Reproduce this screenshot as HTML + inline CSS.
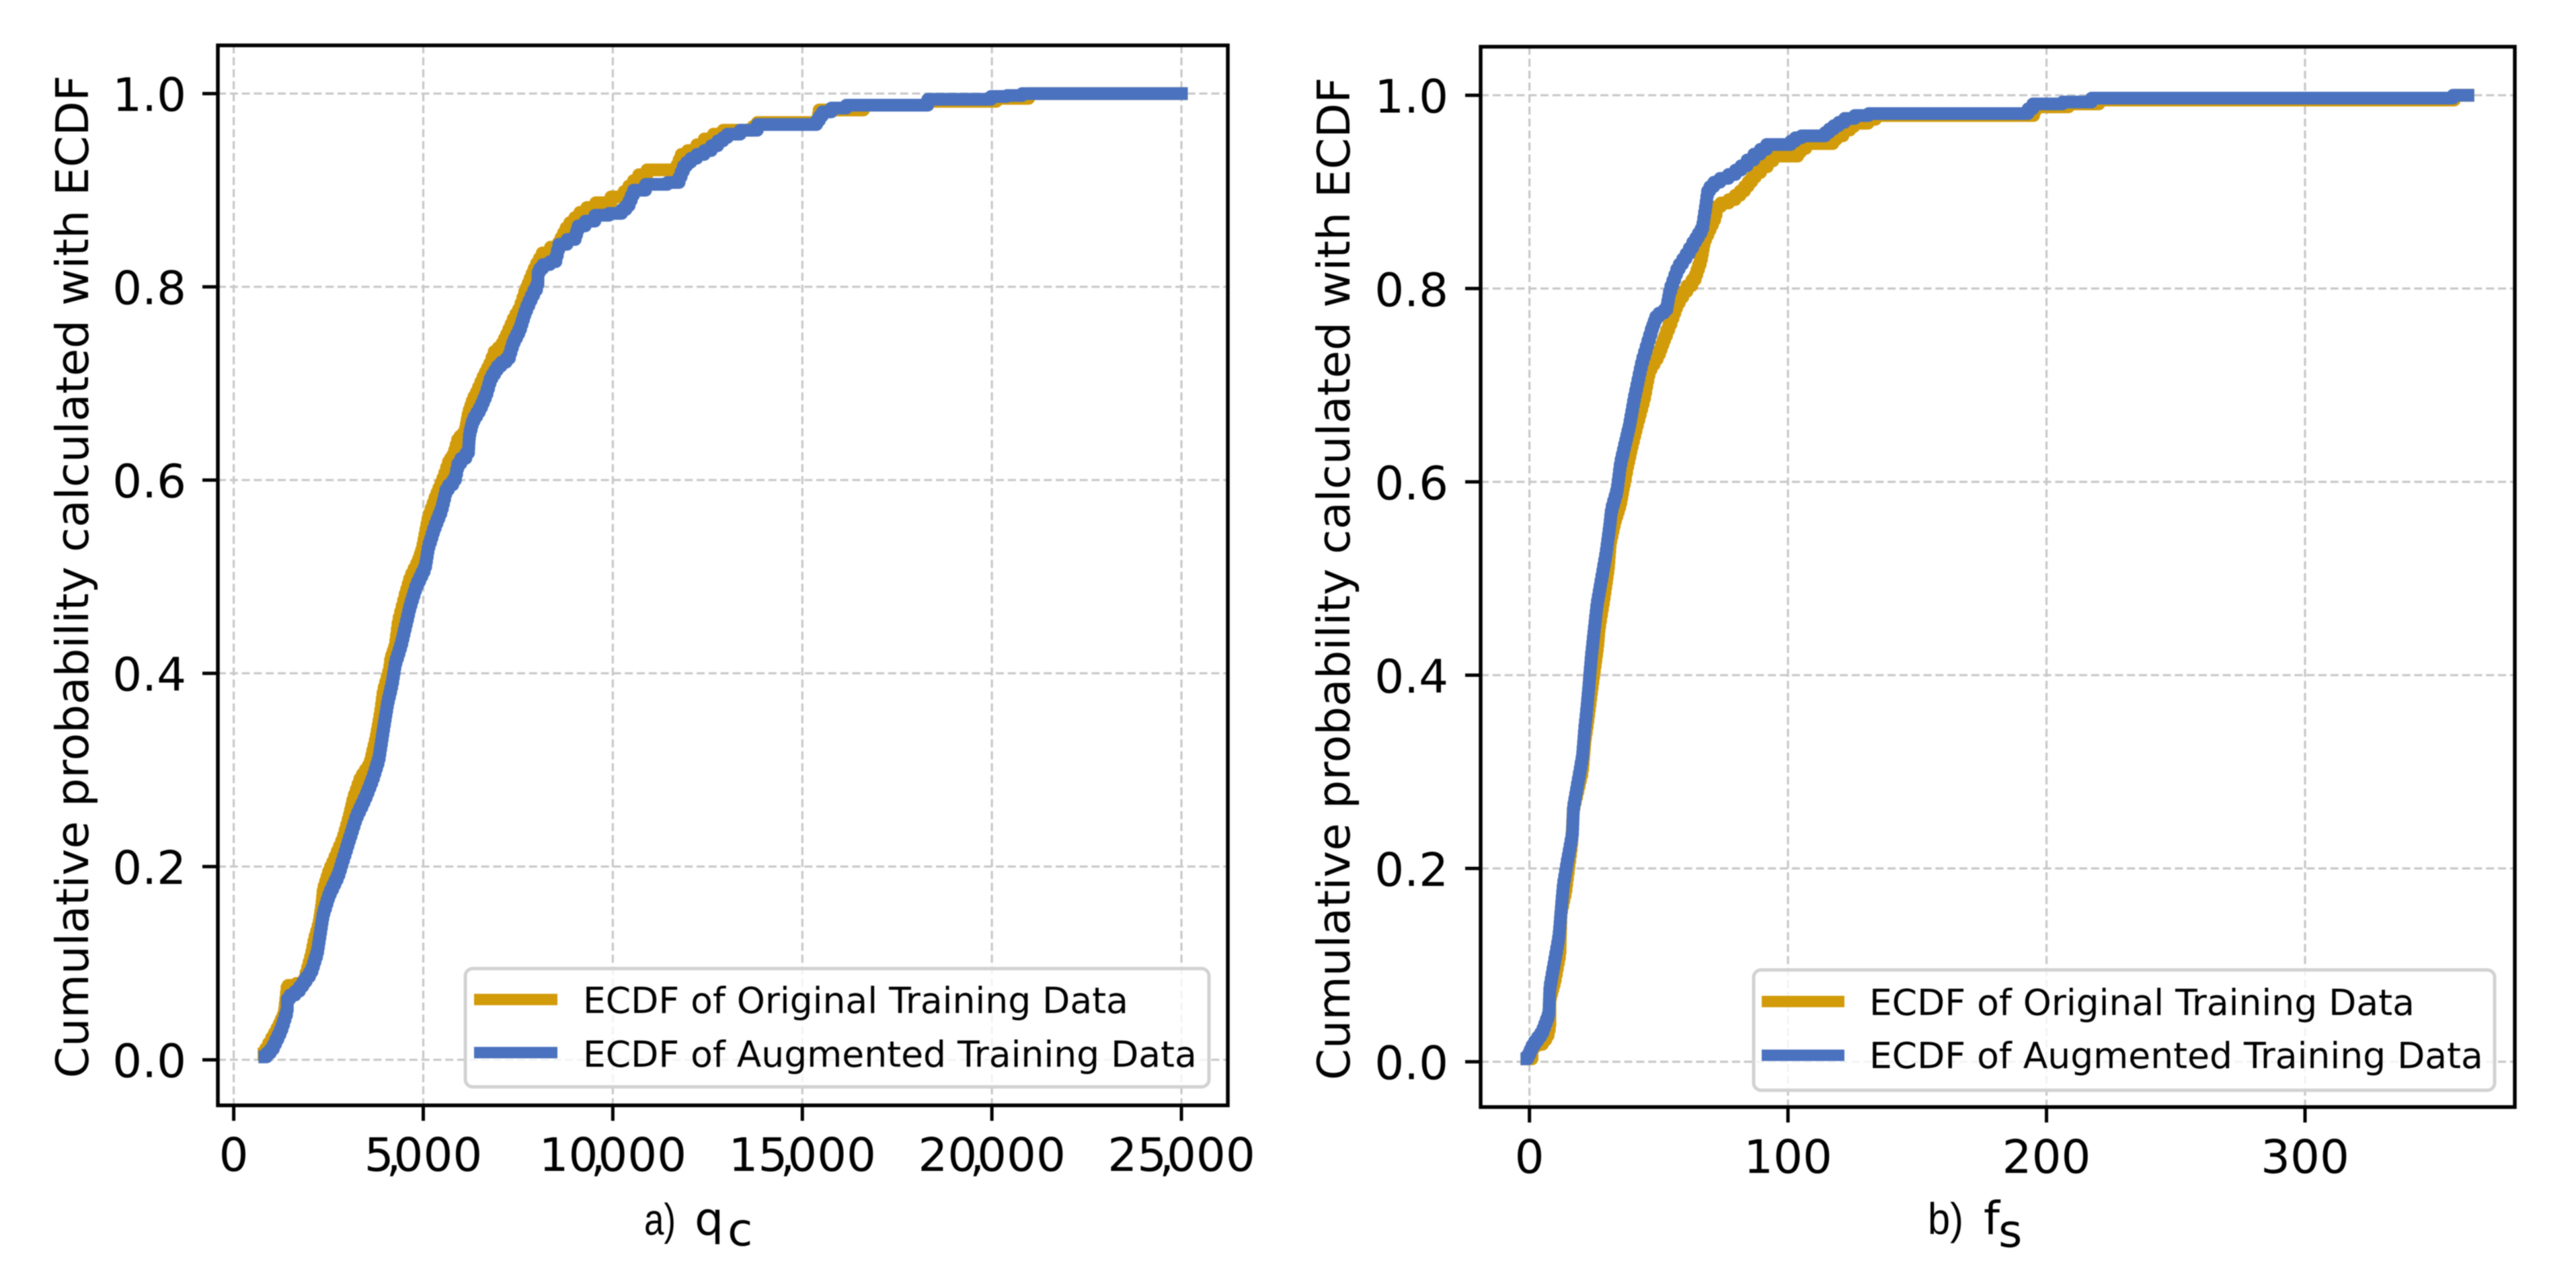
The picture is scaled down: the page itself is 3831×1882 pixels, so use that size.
<!DOCTYPE html>
<html lang="en">
<head>
<meta charset="utf-8">
<title>ECDF comparison of original and augmented training data</title>
<style>
html,body{margin:0;padding:0;background:#fff;width:3831px;height:1882px;overflow:hidden}
svg{display:block;filter:blur(0.7px)}
text{font-family:"DejaVu Sans","Liberation Sans",sans-serif;fill:#000}
.narrow{font-family:"Liberation Sans","DejaVu Sans",sans-serif}
</style>
</head>
<body>
<svg id="chart" xmlns="http://www.w3.org/2000/svg" width="3831" height="1882" viewBox="0 0 3831 1882"></svg>
<script>
const qcTicks = [0, 5000, 10000, 15000, 20000, 25000];
const qcTickLabels = ["0", "5,000", "10,000", "15,000", "20,000", "25,000"];
const fsTicks = [0, 100, 200, 300];
const fsTickLabels = ["0", "100", "200", "300"];
const probTicks = [0, 0.2, 0.4, 0.6, 0.8, 1];
const probTickLabels = ["0.0", "0.2", "0.4", "0.6", "0.8", "1.0"];
const seriesNames = ["ECDF of Original Training Data", "ECDF of Augmented Training Data"];

const qcOriginalX = [800,1040,1175,1333,1413,1452,1848,2046,2125,2244,2323,2363,2521,2640,2877,3036,3155,3353,3590,3748,3867,3946,4105,4144,4263,4342,4540,4659,4857,4976,5134,5332,5541,5688,5807,5925,6102,6191,6309,6427,6605,6782,6900,7048,7226,7403,7551,7699,7790,7950,8176,8537,8798,9194,9669,10234,10607,10760,11042,11665,11834,12117,12512,12796,13021,13643,13870,15396,15453,16584,16640,18280,18337,20090,20147,20938,21000,25000];
const qcOriginalY = [.006,.023,.033,.047,.075,.077,.079,.107,.123,.139,.159,.175,.195,.205,.227,.249,.269,.291,.305,.331,.357,.380,.402,.414,.428,.452,.482,.498,.514,.528,.560,.582,.602,.619,.626,.642,.649,.668,.682,.691,.707,.721,.733,.737,.751,.767,.777,.795,.804,.819,.835,.841,.861,.877,.887,.893,.910,.916,.921,.921,.937,.941,.953,.958,.962,.962,.970,.970,.983,.983,.988,.988,.992,.992,.995,.995,1,1];
const qcAugmentedX = [820,1017,1254,1413,1413,1690,2046,2205,2284,2363,2521,2759,2917,3075,3234,3471,3669,3828,3907,3986,4065,4184,4263,4421,4540,4659,4817,5055,5134,5292,5490,5609,5836,5925,6191,6220,6309,6516,6664,6782,6989,7255,7373,7551,7699,7876,8024,8029,8199,8481,8594,8990,9104,9443,9612,10178,10404,10574,11155,11721,11890,12117,12512,12852,13078,13643,13983,15340,15566,15962,16358,18224,18394,19920,20033,20769,20825,25000];
const qcAugmentedY = [.003,.011,.031,.051,.063,.071,.091,.111,.131,.151,.171,.191,.211,.231,.251,.271,.291,.311,.331,.351,.370,.390,.410,.430,.450,.470,.490,.510,.530,.550,.570,.590,.600,.617,.628,.647,.661,.675,.689,.705,.718,.726,.742,.756,.775,.791,.802,.815,.823,.826,.844,.849,.863,.868,.874,.876,.884,.900,.906,.908,.925,.933,.941,.951,.958,.962,.968,.968,.981,.985,.988,.988,.994,.994,.997,.998,1,1];

const fsOriginalX = [-1,1,1,4.4,7,7.9,7.9,9.8,11.8,12.2,14,16.3,17,20.5,21.5,22.5,24.4,26.4,27,29.1,30.5,31.3,33,35.2,36.5,37.8,39.5,41.5,44.3,46.5,50,52.6,55.2,57.3,60,63.8,66.4,67.7,72.1,72.5,78.6,82.5,88.1,93.3,95,103.2,105.4,108.4,116.7,119.3,123.2,126.2,130.5,131.4,136.2,194.7,196,208,209,219.8,220.7,357.5,358,363];
const fsOriginalY = [.003,.003,.016,.018,.027,.038,.065,.084,.113,.155,.177,.225,.262,.302,.334,.352,.392,.431,.45,.485,.511,.538,.559,.578,.597,.615,.636,.658,.686,.716,.732,.751,.769,.785,.797,.809,.830,.850,.876,.885,.892,.901,.920,.932,.937,.937,.945,.950,.950,.958,.964,.971,.971,.975,.979,.979,.988,.988,.991,.991,.995,.995,1,1];
const fsAugmentedX = [-1,1.4,4.9,7.5,7.9,9.6,11.4,12.2,13.1,14.8,16.6,17,18.7,20.5,21.3,22.2,23.1,23.9,25,26.1,27.8,29.6,30.9,31.7,33.9,35.2,37,38.7,40.4,43.5,47.4,49.1,53,54.3,57.3,61.2,63.8,66.9,68.2,69,72.1,78.6,82.9,88.1,92.9,100.2,103.7,106.7,113.6,116.7,120.6,123.2,128.4,134,192,195.6,206,206.4,217.2,217.7,357,357.5,363];
const fsAugmentedY = [.003,.017,.030,.049,.076,.102,.129,.155,.182,.209,.235,.262,.288,.315,.342,.365,.392,.418,.445,.472,.498,.525,.551,.570,.591,.618,.639,.658,.684,.723,.758,.771,.778,.797,.820,.836,.848,.862,.885,.901,.910,.918,.927,.939,.949,.949,.956,.958,.958,.965,.972,.976,.979,.981,.981,.991,.991,.993,.993,.997,.997,1,1];

const GOLD = "#D29B0A";
const BLUE = "#4A72BF";
const GRID = "#c8c8c8";
const NS = "http://www.w3.org/2000/svg";
const root = document.getElementById("chart");

function el(tag, attrs, parent, txt) {
  const n = document.createElementNS(NS, tag);
  for (const k in attrs) n.setAttribute(k, attrs[k]);
  if (txt !== undefined) n.textContent = txt;
  parent.appendChild(n);
  return n;
}
function linear(d0, d1, r0, r1) {
  return v => r0 + (v - d0) * (r1 - r0) / (d1 - d0);
}
function stepPath(xs, ys, sx, sy) {
  let d = "M" + sx(xs[0]).toFixed(1) + " " + sy(ys[0]).toFixed(1);
  for (let i = 1; i < xs.length; i++) {
    const x0 = sx(xs[i - 1]), x1 = sx(xs[i]);
    const y0 = sy(ys[i - 1]), y1 = sy(ys[i]);
    const n = Math.max(1, Math.ceil(Math.abs(y1 - y0) / 9));
    for (let k = 1; k <= n; k++) {
      const mid = x0 + (x1 - x0) * (k - 0.5) / n;
      d += "H" + mid.toFixed(1) + "V" + (y0 + (y1 - y0) * k / n).toFixed(1);
    }
    d += "H" + x1.toFixed(1);
  }
  return d;
}
function xTickLabel(group, x, y, label) {
  const t = el("text", { x: x, y: y, "text-anchor": "middle", "font-size": 69 }, group);
  
  
  const parts = label.split(",");
  if (parts.length === 1) {
    t.textContent = label;
  } else {
    el("tspan", {}, t, parts[0]);
    el("tspan", { dx: -11 }, t, ",");
    el("tspan", { dx: -11 }, t, parts[1]);
  }
  return t;
}

function drawPanel(p) {
  const g = el("g", {}, root);
  
  

  const sx = linear(p.xDomain[0], p.xDomain[1], p.xRange[0], p.xRange[1]);
  const sy = linear(0, 1, p.yRange[0], p.yRange[1]);

  p.xTicks.forEach((v, i) => {
    const line = el("line", { x1: sx(v), x2: sx(v), y1: p.top, y2: p.bottom, stroke: GRID, "stroke-width": 3.2, "stroke-dasharray": "12 5.8" }, g);
    
    
  });
  probTicks.forEach(v => {
    const line = el("line", { x1: p.left, x2: p.right, y1: sy(v), y2: sy(v), stroke: GRID, "stroke-width": 3.2, "stroke-dasharray": "12 5.8" }, g);
    
    
  });

  const gold = el("path", { d: stepPath(p.origX, p.origY, sx, sy), fill: "none", stroke: GOLD, "stroke-width": 19, "stroke-linejoin": "round", "stroke-linecap": "square" }, g);
  
  
  const blue = el("path", { d: stepPath(p.augX, p.augY, sx, sy), fill: "none", stroke: BLUE, "stroke-width": 19, "stroke-linejoin": "round", "stroke-linecap": "square" }, g);
  
  

  const frame = el("rect", { x: p.left, y: p.top, width: p.right - p.left, height: p.bottom - p.top, fill: "none", stroke: "#000", "stroke-width": 5.5 }, g);
  
  

  p.xTicks.forEach((v, i) => {
    const tick = el("line", { x1: sx(v), x2: sx(v), y1: p.bottom, y2: p.bottom + 23, stroke: "#000", "stroke-width": 5 }, g);
    
    
    xTickLabel(g, sx(v), p.xLabelBase, p.xTickLabels[i]);
  });
  probTicks.forEach((v, i) => {
    const tick = el("line", { x1: p.left - 23, x2: p.left, y1: sy(v), y2: sy(v), stroke: "#000", "stroke-width": 5 }, g);
    
    
    const lab = el("text", { x: p.yLabelRight, y: sy(v) + 26, "text-anchor": "end", "font-size": 69 }, g, probTickLabels[i]);
    
    
  });

  const yt = el("text", { transform: "translate(" + p.yTitleX + " " + p.yTitleY + ") rotate(-90)", "text-anchor": "middle", "font-size": 67 }, g, "Cumulative probability calculated with ECDF");
  
  

  const legend = el("g", {}, g);
  
  
  const box = el("rect", { x: p.lg.x, y: p.lg.y, width: p.lg.w, height: p.lg.h, rx: 11, fill: "#fff", "fill-opacity": 0.8, stroke: "#d2d2d2", "stroke-width": 5 }, legend);
  
  
  [GOLD, BLUE].forEach((c, i) => {
    const sw = el("line", { x1: p.lg.hx0, x2: p.lg.hx1, y1: p.lg.ys[i], y2: p.lg.ys[i], stroke: c, "stroke-width": 17 }, legend);
    
    
    const tx = el("text", { x: p.lg.tx, y: p.lg.bases[i], "font-size": 53.5 }, legend, seriesNames[i]);
    
    
  });

  const xt = el("g", {}, g);
  
  
  const pre = el("text", { x: p.title.x0, y: p.title.base, "font-size": 66, textLength: p.title.preW, lengthAdjust: "spacingAndGlyphs", class: "narrow" }, xt, p.title.pre);
  
  
  const main = el("text", { x: p.title.x1, y: p.title.base, "font-size": 68 }, xt, p.title.main);
  
  
  const sub = el("text", { x: p.title.x2, y: p.title.subBase, "font-size": 68 }, xt, p.title.sub);
  
  
}

drawPanel({
  name: "panel-a-qc",
  left: 324, right: 1826, top: 67.5, bottom: 1644.5,
  xDomain: [0, 25000], xRange: [347.6, 1757],
  yRange: [1576.7, 139.2],
  xTicks: qcTicks, xTickLabels: qcTickLabels,
  origX: qcOriginalX, origY: qcOriginalY, augX: qcAugmentedX, augY: qcAugmentedY,
  xLabelBase: 1742, yLabelRight: 277,
  yTitleX: 131, yTitleY: 858,
  lg: { x: 692, y: 1441, w: 1106, h: 176, hx0: 705, hx1: 829, ys: [1487, 1566], tx: 867, bases: [1507, 1587] },
  title: { pre: "a)", preW: 47, x0: 958, x1: 1033, x2: 1082, main: "q", sub: "c", base: 1837, subBase: 1853 }
});
drawPanel({
  name: "panel-b-fs",
  left: 2202, right: 3740, top: 69.5, bottom: 1647,
  xDomain: [0, 300], xRange: [2274.6, 3428],
  yRange: [1579.6, 141.7],
  xTicks: fsTicks, xTickLabels: fsTickLabels,
  origX: fsOriginalX, origY: fsOriginalY, augX: fsAugmentedX, augY: fsAugmentedY,
  xLabelBase: 1745, yLabelRight: 2154,
  yTitleX: 2007, yTitleY: 861,
  lg: { x: 2608, y: 1443, w: 1102, h: 179, hx0: 2620, hx1: 2743, ys: [1490, 1570], tx: 2780, bases: [1510, 1589] },
  title: { pre: "b)", preW: 53, x0: 2867, x1: 2950, x2: 2972, main: "f", sub: "s", base: 1836, subBase: 1855 }
});
</script>
</body>
</html>
